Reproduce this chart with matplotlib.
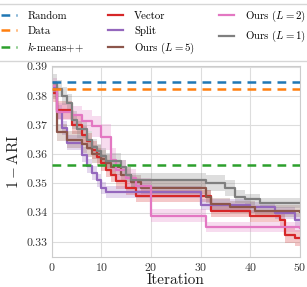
import numpy as np
import matplotlib
matplotlib.use('Agg')
import matplotlib.pyplot as plt

plt.rcParams['font.family'] = 'cmr10'
plt.rcParams['mathtext.fontset'] = 'cm'
plt.rcParams['axes.formatter.use_mathtext'] = True

# constant baselines
random_val = 0.3847
data_val = 0.3824
kmeans_val = 0.3562

# step series: iteration breakpoints, mean value, band half-width
vector_x = [0, 1, 4, 6, 7, 8, 9, 10, 11, 12, 13, 15, 17, 32, 40, 46, 47, 49, 50]
vector_y = [0.381, 0.3752, 0.370, 0.3667, 0.3644, 0.3615, 0.3592, 0.357, 0.3547,
            0.353, 0.3507, 0.3484, 0.3456, 0.3404, 0.3388, 0.3375, 0.3322, 0.3313, 0.3313]
vector_w = [0.003, 0.003, 0.003, 0.003, 0.003, 0.003, 0.0028, 0.0028, 0.0025,
            0.0025, 0.0025, 0.0022, 0.002, 0.002, 0.002, 0.002, 0.0025, 0.0028, 0.0028]

split_x = [0, 1, 2, 3, 6, 7, 8, 9, 10, 11, 30, 40, 45, 49, 50]
split_y = [0.383, 0.3745, 0.369, 0.364, 0.3598, 0.356, 0.3535, 0.351, 0.3485,
           0.347, 0.3427, 0.3418, 0.3398, 0.3375, 0.3375]
split_w = [0.002, 0.0025, 0.0025, 0.0025, 0.0025, 0.0025, 0.0025, 0.0022, 0.002,
           0.002, 0.0018, 0.002, 0.002, 0.002, 0.002]

l5_x = [0, 1, 3, 6, 7, 8, 10, 11, 12, 14, 16, 18, 31, 32, 36, 41, 50]
l5_y = [0.382, 0.3675, 0.365, 0.3635, 0.362, 0.360, 0.3585, 0.357, 0.3555, 0.353,
        0.3505, 0.3485, 0.3455, 0.343, 0.342, 0.3405, 0.3403]
l5_w = [0.003, 0.003, 0.003, 0.003, 0.003, 0.003, 0.0028, 0.0028, 0.0025, 0.0025,
        0.0025, 0.0022, 0.0022, 0.002, 0.002, 0.002, 0.002]

l2_x = [0, 1, 4, 6, 8, 10, 12, 13, 15, 17, 20, 31, 50]
l2_y = [0.3832, 0.3746, 0.3735, 0.3715, 0.3695, 0.3658, 0.358, 0.3545, 0.352,
        0.349, 0.3389, 0.3351, 0.3348]
l2_w = [0.003, 0.003, 0.003, 0.0035, 0.0035, 0.0045, 0.004, 0.0035, 0.003,
        0.003, 0.0022, 0.0018, 0.0018]

l1_x = [0, 1, 2, 3, 4, 5, 7, 8, 9, 10, 11, 14, 15, 16, 31, 35, 37, 39, 42, 50]
l1_y = [0.3845, 0.3825, 0.380, 0.3775, 0.3718, 0.3685, 0.365, 0.3625, 0.361, 0.3595,
        0.3578, 0.3555, 0.353, 0.351, 0.3502, 0.3484, 0.3455, 0.3445, 0.3432, 0.3432]
l1_w = [0.003, 0.003, 0.003, 0.003, 0.003, 0.003, 0.0028, 0.0028, 0.0025, 0.0025,
        0.0025, 0.0025, 0.0025, 0.0025, 0.0028, 0.0028, 0.0022, 0.002, 0.0017, 0.0017]

series = [
    ('Vector', vector_x, vector_y, vector_w, '#d62728'),
    ('Split', split_x, split_y, split_w, '#9467bd'),
    ('Ours ($L=5$)', l5_x, l5_y, l5_w, '#8c564b'),
    ('Ours ($L=2$)', l2_x, l2_y, l2_w, '#e377c2'),
    ('Ours ($L=1$)', l1_x, l1_y, l1_w, '#7f7f7f'),
]

fig = plt.figure(figsize=(3.07, 2.87), dpi=100)
ax = fig.add_axes([0.169, 0.1045, 0.8076, 0.6665])

handles = []
for val, label, color in [(random_val, 'Random', '#1f77b4'),
                          (data_val, 'Data', '#ff7f0e'),
                          (kmeans_val, '$k$-means++', '#2ca02c')]:
    h = ax.axhline(val, color=color, ls=(0, (3.5, 2.5)), lw=1.8, label=label, zorder=3)
    handles.append(h)

for label, xs, ys, ws, color in series:
    xs = np.array(xs)
    ys = np.array(ys)
    ws = np.array(ws)
    ax.fill_between(xs, ys - ws, ys + ws, step='post', color=color, alpha=0.25, lw=0)
    h, = ax.plot(xs, ys, drawstyle='steps-post', color=color, lw=1.6, label=label)
    handles.append(h)

ax.set_xlim(0, 50)
ax.set_ylim(0.3248, 0.3903)
ax.set_xticks([0, 10, 20, 30, 40, 50])
ax.set_yticks([0.33, 0.34, 0.35, 0.36, 0.37, 0.38, 0.39])
ax.set_yticklabels(['0.33', '0.34', '0.35', '0.36', '0.37', '0.38', '0.39'])
ax.grid(True, color='#dddddd', lw=0.8)
ax.set_axisbelow(True)
for s in ax.spines.values():
    s.set_color('#cccccc')
ax.tick_params(length=0, labelsize=8.5, colors='#333333', pad=3)
ax.set_xlabel('Iteration', fontsize=11, labelpad=0, color='#222222')
ax.set_ylabel(r'$1-\mathrm{ARI}$', fontsize=11, labelpad=4, color='#222222')

fig.legend(handles=handles, loc='upper center', bbox_to_anchor=(0.5, 0.993),
           ncol=3, fontsize=7.8, frameon=True, edgecolor='#cccccc', fancybox=False,
           handlelength=1.4, columnspacing=2.2, borderpad=0.45, labelspacing=0.45,
           handletextpad=1.0, borderaxespad=0.2)

fig.savefig('out.png', dpi=100)
